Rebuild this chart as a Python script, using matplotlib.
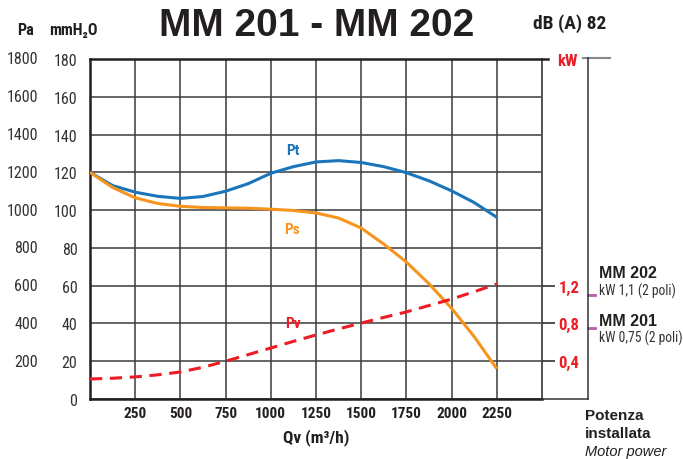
import numpy as np
import matplotlib
matplotlib.use("Agg")
import matplotlib.pyplot as plt
from matplotlib.lines import Line2D

# data (Qv in m3/h, pressure in Pa)
qv = [0, 125, 250, 375, 500, 625, 750, 875, 1000, 1125, 1250,
      1375, 1500, 1625, 1750, 1875, 2000, 2125, 2250]
pt = [1200, 1130, 1095, 1073, 1062, 1072, 1100, 1140, 1195, 1230, 1255,
      1262, 1252, 1230, 1198, 1155, 1102, 1040, 962]
ps = [1200, 1120, 1065, 1035, 1020, 1014, 1012, 1010, 1005, 998, 985,
      958, 905, 820, 725, 610, 480, 330, 160]
pv = [106, 110, 117, 128, 143, 168, 200, 235, 270, 305, 339,
      371, 402, 432, 461, 495, 529, 568, 609]

x_ticks = [250, 500, 750, 1000, 1250, 1500, 1750, 2000, 2250]
pa_ticks = [200, 400, 600, 800, 1000, 1200, 1400, 1600, 1800]
mm_ticks = [0, 20, 40, 60, 80, 100, 120, 140, 160, 180]
kw_ticks = [0.4, 0.8, 1.2]
kw_labels = ["0,4", "0,8", "1,2"]

motors = ["MM 202", "MM 201"]
motor_kw = [1.1, 0.75]
motor_text = ["kW 1,1 (2 poli)", "kW 0,75 (2 poli)"]

blue = "#1b75bb"
orange = "#f7941d"
red = "#ec1c24"
purple = "#b35ea9"
dark = "#231f20"

narrow = ["Roboto Condensed", "DejaVu Sans"]
plt.rcParams["font.family"] = narrow
plt.rcParams["font.stretch"] = "condensed"
wide = ["Liberation Sans", "DejaVu Sans"]

fig = plt.figure(figsize=(6.83, 4.6), dpi=100)
W, H = 683, 460
ax = fig.add_axes([90 / W, 60 / H, 452 / W, 340 / H])
ax.set_xlim(0, 2500)
ax.set_ylim(0, 1800)

ax.plot(qv, pt, color=blue, lw=2.2, solid_capstyle="butt", zorder=3)
ax.plot(qv, ps, color=orange, lw=2.2, solid_capstyle="butt", zorder=3)
ax.plot(qv, pv, color=red, lw=2.2, dashes=(4, 2.5), zorder=3)

ax.text(1120, 1320, "Pt", color=blue, fontsize=11, fontweight="bold", ha="center", va="center")
ax.text(1120, 900, "Ps", color=orange, fontsize=11, fontweight="bold", ha="center", va="center")
ax.text(1120, 400, "Pv", color=red, fontsize=11, fontweight="bold", ha="center", va="center")

# grid
ax.set_xticks(range(0, 2501, 250))
ax.set_xticklabels([""] + [str(t) for t in x_ticks] + [""])
ax.set_yticks([m * 10 for m in mm_ticks])
ax.set_yticklabels([str(m) for m in mm_ticks])
ax.grid(True, color="#3a3a3a", lw=1.1)
ax.tick_params(axis="both", length=0)
ax.tick_params(axis="x", pad=5, labelsize=11)
ax.tick_params(axis="y", pad=9, labelsize=11.5, labelcolor="#333333")
for lab in ax.get_xticklabels():
    lab.set_fontweight("bold")
    lab.set_color(dark)

for s in ["left", "bottom"]:
    ax.spines[s].set_linewidth(1.8)
    ax.spines[s].set_color(dark)
ax.spines["right"].set_linewidth(1.4)
ax.spines["right"].set_color("#555555")
ax.spines["top"].set_visible(False)

# Pa column
for p in pa_ticks:
    ax.text(-0.115, p, str(p), transform=ax.get_yaxis_transform(), ha="right",
            va="center", fontsize=11.5, color="#333333")

ax.set_xlabel("Qv (m³/h)", fontsize=12.5, fontweight="bold", color=dark, labelpad=6)

# kW axis
ax2 = ax.twinx()
ax2.set_ylim(0, 3.6)
ax2.set_yticks(kw_ticks)
ax2.set_yticklabels(kw_labels)
ax2.tick_params(axis="y", length=9, width=1.1, color=dark, pad=3, labelsize=12,
                labelcolor=red)
for lab in ax2.get_yticklabels():
    lab.set_fontweight("bold")
for s in ax2.spines.values():
    s.set_visible(False)

# frame pieces
fig.add_artist(Line2D([90 / W, 548 / W], [1 - 60 / H] * 2, color=dark, lw=1.8))
fig.add_artist(Line2D([583 / W, 610 / W], [1 - 59 / H] * 2, color="#888888", lw=1.5))
fig.add_artist(Line2D([588 / W, 588 / W], [1 - 59 / H, 1 - 400 / H], color="#333333", lw=1.1))
fig.add_artist(Line2D([542 / W, 588 / W], [1 - 400 / H] * 2, color="#333333", lw=1.1))
fig.text(567 / W, 1 - 62 / H, "kW", color=red, fontsize=12, fontweight="bold",
         ha="center", va="center")

# motor power marks
name_y = [273, 322]
text_y = [291, 338]
for name, kw, txt, ny, ty in zip(motors, motor_kw, motor_text, name_y, text_y):
    y = kw / 3.6
    ax2.plot([1.101, 1.118], [y, y], transform=ax2.transAxes, color=purple, lw=2,
             clip_on=False)
    fig.text(599 / W, 1 - ny / H, name, fontsize=11.5, fontweight="bold", color=dark,
             va="center", ha="left", family=wide, stretch="normal")
    fig.text(599 / W, 1 - ty / H, txt, fontsize=9.8, color="#333333",
             va="center", ha="left")

fig.text(585 / W, 1 - 416 / H, "Potenza", fontsize=11, fontweight="bold", color=dark,
         va="center", family=wide, stretch="normal")
fig.text(585 / W, 1 - 434 / H, "installata", fontsize=11, fontweight="bold", color=dark,
         va="center", family=wide, stretch="normal")
fig.text(585 / W, 1 - 452 / H, "Motor power", fontsize=10.5, fontstyle="italic",
         color=dark, va="center", family=wide, stretch="normal")

# header
fig.text(317 / W, 1 - 26 / H, "MM 201 - MM 202", fontsize=28, fontweight="bold",
         color=dark, ha="center", va="center", family=wide, stretch="normal")
fig.text(570 / W, 1 - 24 / H, "dB (A) 82", fontsize=14, fontweight="bold",
         color=dark, ha="center", va="center")
fig.text(25 / W, 1 - 31 / H, "Pa", fontsize=11.5, fontweight="bold", color=dark,
         ha="center", va="center")
fig.text(73 / W, 1 - 31 / H, "mmH₂O", fontsize=11.5, fontweight="bold", color=dark,
         ha="center", va="center")

fig.savefig("out.png", dpi=100)
